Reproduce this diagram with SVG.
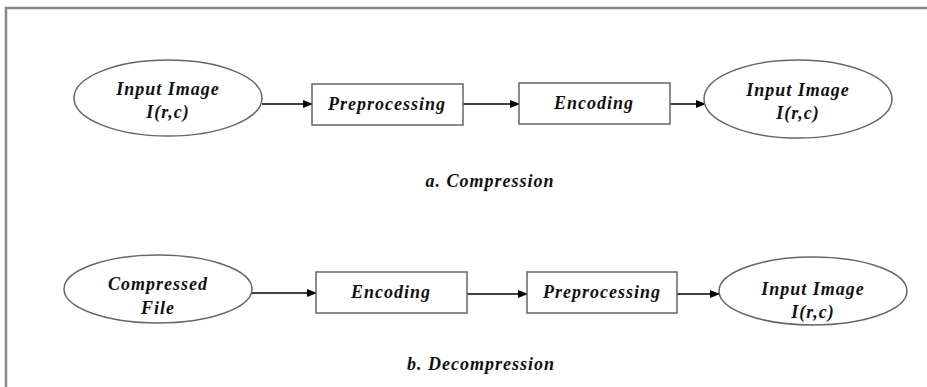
<svg xmlns="http://www.w3.org/2000/svg" width="927" height="387" viewBox="0 0 927 387">
<style>
.shape{fill:#fff;stroke:#666;stroke-width:1.5}
.t{font-family:"Liberation Serif",serif;font-weight:bold;font-style:italic;font-size:18px;letter-spacing:1px;fill:#111;text-anchor:middle}
.c{fill:none;stroke:#000;stroke-width:1.3}
</style>
<defs>
<marker id="ah" markerWidth="10" markerHeight="8" refX="9" refY="4" orient="auto" markerUnits="userSpaceOnUse">
<path d="M0,0 L10,4 L0,8 Z" fill="#000"/>
</marker>
</defs>
<rect width="927" height="387" fill="#fff"/>
<g id="frame">
<path d="M6,387 L6,8 L927,8" fill="none" stroke="#888" stroke-width="2.5"/>
</g>
<g id="connectors">
<line class="c" x1="262" y1="104" x2="312" y2="104" marker-end="url(#ah)"/>
<line class="c" x1="463" y1="104" x2="519" y2="104" marker-end="url(#ah)"/>
<line class="c" x1="670" y1="104" x2="705" y2="104" marker-end="url(#ah)"/>
<line class="c" x1="252" y1="293" x2="316" y2="293" marker-end="url(#ah)"/>
<line class="c" x1="467" y1="294" x2="527" y2="294" marker-end="url(#ah)"/>
<line class="c" x1="677" y1="294" x2="719" y2="294" marker-end="url(#ah)"/>
</g>
<g id="a-input">
<ellipse class="shape" cx="168" cy="98" rx="94" ry="38"/>
<text class="t" x="168" y="95">Input Image</text>
<text class="t" x="168" y="118">I(r,c)</text>
</g>
<g id="a-preprocessing">
<rect class="shape" x="312" y="84" width="151" height="41"/>
<text class="t" x="387" y="110">Preprocessing</text>
</g>
<g id="a-encoding">
<rect class="shape" x="519" y="83" width="151" height="41"/>
<text class="t" x="594" y="109">Encoding</text>
</g>
<g id="a-output">
<ellipse class="shape" cx="798" cy="99" rx="94" ry="39"/>
<text class="t" x="798" y="96">Input Image</text>
<text class="t" x="798" y="119">I(r,c)</text>
</g>
<g id="caption-a">
<text class="t" x="490" y="187">a. Compression</text>
</g>
<g id="b-compressed">
<ellipse class="shape" cx="158" cy="289" rx="94" ry="34"/>
<text class="t" x="158" y="290">Compressed</text>
<text class="t" x="158" y="314">File</text>
</g>
<g id="b-encoding">
<rect class="shape" x="316" y="272" width="151" height="41"/>
<text class="t" x="391" y="298">Encoding</text>
</g>
<g id="b-preprocessing">
<rect class="shape" x="527" y="272" width="150" height="41"/>
<text class="t" x="602" y="298">Preprocessing</text>
</g>
<g id="b-output">
<ellipse class="shape" cx="813" cy="291" rx="94" ry="34"/>
<text class="t" x="813" y="295">Input Image</text>
<text class="t" x="813" y="318">I(r,c)</text>
</g>
<g id="caption-b">
<text class="t" x="481" y="370">b. Decompression</text>
</g>
</svg>
